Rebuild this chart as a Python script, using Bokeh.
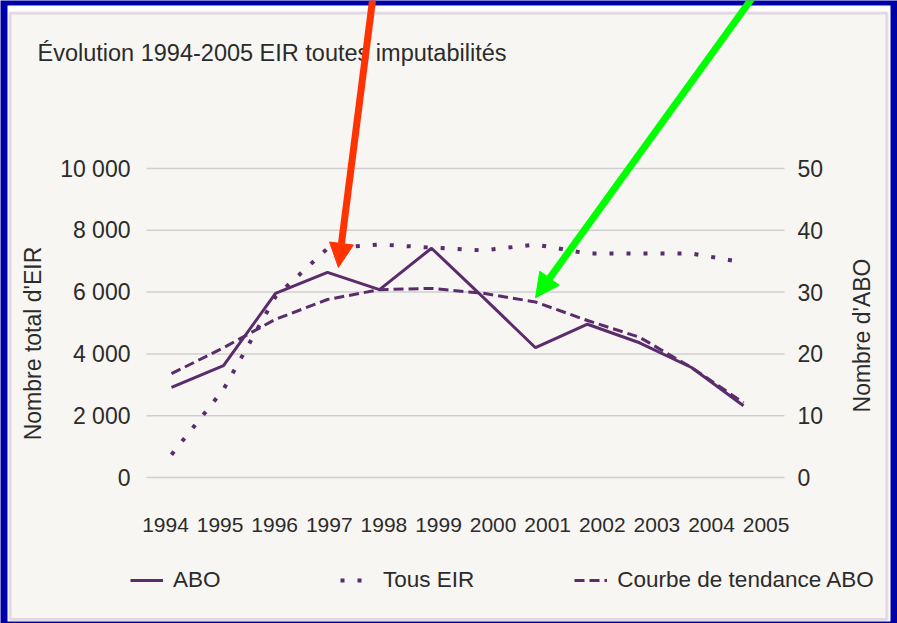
import math
from bokeh.plotting import figure
from bokeh.models import (Range1d, LinearAxis, FixedTicker, Legend, LegendItem,
                          Arrow, NormalHead, BoxAnnotation, Label)
from bokeh.embed import file_html
from bokeh.resources import INLINE

# ---------------- data ----------------
years = [1994, 1995, 1996, 1997, 1998, 1999, 2000, 2001, 2002, 2003, 2004, 2005]
year_labels = ["1994", "1995", "1996", "1997", "1998", "1999",
               "2000", "2001", "2002", "2003", "2004", "2005"]
abo = [14.6, 18.1, 29.8, 33.2, 30.4, 37.1, 29.1, 21.0, 24.8, 21.8, 17.8, 11.6]
tous_eir = [740, 2850, 5850, 7410, 7540, 7440, 7350, 7540, 7250, 7250, 7250, 6960]
tendance_abo = [16.8, 21.0, 25.6, 28.8, 30.4, 30.6, 29.8, 28.4, 25.4, 22.7, 17.8, 12.1]
left_ticks = [0, 2000, 4000, 6000, 8000, 10000]
left_tick_labels = ["0", "2 000", "4 000", "6 000", "8 000", "10 000"]
right_ticks = [0, 10, 20, 30, 40, 50]
right_tick_labels = ["0", "10", "20", "30", "40", "50"]
title_text = "Évolution 1994-2005 EIR toutes imputabilités"
left_title = "Nombre total d'EIR"
right_title = "Nombre d'ABO"
legend_labels = ["ABO", "Tous EIR", "Courbe de tendance ABO"]

# ---------------- layout (pixels) ----------------
W, H = 897, 623
AREA_L, AREA_R = 146, 784          # extent of the plotting area
Y_ZERO, Y_TOP = 477, 168           # pixel rows of 0 and of the top tick
X_FIRST, X_STEP = 171, 52          # first year column and column step
LAB_FIRST, LAB_STEP = 165, 54.6    # year label centres
LEFT_MAX, RIGHT_MAX = left_ticks[-1], right_ticks[-1]
ppu_l = (Y_ZERO - Y_TOP) / LEFT_MAX
ppu_r = (Y_ZERO - Y_TOP) / RIGHT_MAX

def xd(px):
    return years[0] + (px - X_FIRST) / X_STEP

def yl(py):
    return (Y_ZERO - py) / ppu_l

def yr(py):
    return (Y_ZERO - py) / ppu_r

# ---------------- style ----------------
FONT = "Liberation Sans"
PURPLE = "#5B2C6B"
PANEL = "#F7F6F2"
BLUE = "#0000A8"
BORDER = "#A88CB0"
TEXT = "#2B2B2B"
GRID = "#CFCFCF"

p = figure(width=W, height=H, output_backend="svg", toolbar_location=None,
           x_range=Range1d(xd(0), xd(W)), y_range=Range1d(yl(H), yl(0)),
           x_axis_location=None, y_axis_location=None, min_border=0,
           title=None)
p.background_fill_color = BLUE
p.border_fill_color = BLUE
p.outline_line_color = None
p.xgrid.visible = False
p.ygrid.visible = False

# framed panel
p.add_layout(BoxAnnotation(left=xd(7), right=xd(890), top=yl(5), bottom=yl(621),
                           fill_color="white", fill_alpha=1.0, line_alpha=0,
                           level="underlay"))
p.add_layout(BoxAnnotation(left=xd(9.5), right=xd(886.5), top=yl(12.5), bottom=yl(619),
                           fill_color=PANEL, fill_alpha=1.0, line_color=BORDER,
                           line_width=3, level="underlay"))

# title
p.add_layout(Label(x=xd(37), y=yl(52), text=title_text, text_font=FONT,
                   text_font_size="23.5px", text_color=TEXT, text_baseline="middle",
                   text_align="left"))

# grid lines
n = len(left_ticks)
p.segment(x0=[xd(AREA_L)] * n, y0=left_ticks, x1=[xd(AREA_R)] * n, y1=left_ticks,
          line_color=GRID, line_width=1.5)

# axes
p.extra_y_ranges = {"abo": Range1d(yr(H), yr(0))}
p.extra_x_ranges = {"lab": Range1d((0 - LAB_FIRST) / LAB_STEP, (W - LAB_FIRST) / LAB_STEP)}

ya = LinearAxis(ticker=FixedTicker(ticks=left_ticks), fixed_location=xd(AREA_L),
                major_label_overrides={t: l for t, l in zip(left_ticks, left_tick_labels)},
                axis_label=left_title, bounds=(yl(343) * 2 - LEFT_MAX, LEFT_MAX))
ra = LinearAxis(y_range_name="abo", ticker=FixedTicker(ticks=right_ticks),
                fixed_location=xd(AREA_R),
                major_label_overrides={t: l for t, l in zip(right_ticks, right_tick_labels)})
idx = list(range(len(year_labels)))
xa = LinearAxis(x_range_name="lab", ticker=FixedTicker(ticks=idx), fixed_location=0,
                major_label_overrides={i: l for i, l in zip(idx, year_labels)})
p.add_layout(ya, "left")
p.add_layout(ra, "right")
p.add_layout(xa, "below")

for ax in (ya, ra, xa):
    ax.axis_line_color = None
    ax.major_tick_line_color = None
    ax.minor_tick_line_color = None
    ax.major_tick_out = 0
    ax.major_label_text_font = FONT
    ax.major_label_text_font_size = "23px"
    ax.major_label_text_color = TEXT
    ax.axis_label_text_font = FONT
    ax.axis_label_text_font_size = "23px"
    ax.axis_label_text_font_style = "normal"
    ax.axis_label_text_color = TEXT
xa.major_label_text_font_size = "21px"
ya.major_label_standoff = 16
ya.axis_label_standoff = 11
ra.major_label_standoff = 13
xa.major_label_standoff = 40

# right-hand axis title (reads bottom to top, like the left one)
p.add_layout(Label(x=xd(861), y=yr(335), y_range_name="abo", text=right_title,
                   angle=math.pi / 2, text_align="center", text_baseline="middle",
                   text_font=FONT, text_font_size="23px", text_color=TEXT))

# series
r_tous = p.line(years, tous_eir, line_color=PURPLE, line_width=4, line_dash="4 13")
r_trend = p.line(years, tendance_abo, y_range_name="abo", line_color=PURPLE,
                 line_width=3, line_dash="10 5")
r_abo = p.line(years, abo, y_range_name="abo", line_color=PURPLE, line_width=3)

legend = Legend(items=[LegendItem(label=legend_labels[0], renderers=[r_abo]),
                       LegendItem(label=legend_labels[1], renderers=[r_tous]),
                       LegendItem(label=legend_labels[2], renderers=[r_trend])],
                orientation="horizontal", location=(130, H - 593), spacing=100,
                label_width=67, glyph_width=33, glyph_height=20, label_standoff=10,
                padding=0, margin=0, border_line_alpha=0, background_fill_alpha=0,
                label_text_font=FONT, label_text_font_size="22.5px",
                label_text_color=TEXT)
p.add_layout(legend)

# highlight arrows
red_arrow = dict(x_start=1997.89, y_start=78.8, x_end=1997.21, y_end=34.0)
green_arrow = dict(x_start=2005.27, y_start=78.8, x_end=2001.0, y_end=29.1)
for a, col in ((red_arrow, "#FF3300"), (green_arrow, "#00FF00")):
    p.add_layout(Arrow(end=NormalHead(size=24, fill_color=col, line_color=col),
                       line_color=col, line_width=7, y_range_name="abo", **a))

open("out.html", "w").write(file_html(p, INLINE))
